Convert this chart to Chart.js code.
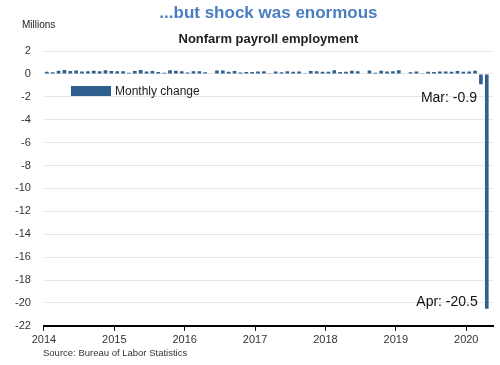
<!DOCTYPE html>
<html>
<head>
<meta charset="utf-8">
<script src="https://cdn.jsdelivr.net/npm/chart.js@4"></script>
<style>
  html, body { margin: 0; padding: 0; background: #fff; }
  #wrap { width: 500px; height: 365px; }
</style>
</head>
<body>
<div id="wrap"><canvas id="grafica"></canvas></div>
<script>
// monthly change in nonfarm payrolls, millions (Jan 2014 .. Apr 2020)
const anios = [2014, 2015, 2016, 2017, 2018, 2019, 2020];
const cambios2014 = [0.19, 0.15, 0.27, 0.33, 0.25, 0.30, 0.20, 0.23, 0.28, 0.23, 0.31, 0.26];
const cambios2015 = [0.23, 0.24, 0.09, 0.26, 0.34, 0.21, 0.25, 0.16, 0.10, 0.32, 0.27, 0.24];
const cambios2016 = [0.13, 0.24, 0.23, 0.15, 0.04, 0.30, 0.29, 0.18, 0.25, 0.12, 0.16, 0.16];
const cambios2017 = [0.22, 0.23, 0.05, 0.21, 0.15, 0.24, 0.19, 0.22, 0.02, 0.26, 0.24, 0.18];
const cambios2018 = [0.18, 0.32, 0.16, 0.18, 0.27, 0.24, 0.04, 0.29, 0.11, 0.28, 0.20, 0.23];
const cambios2019 = [0.31, 0.00, 0.15, 0.21, 0.06, 0.18, 0.17, 0.21, 0.21, 0.19, 0.26, 0.18];
const cambios2020 = [0.21, 0.28, -0.9, -20.5];
const notaMar = 'Mar: -0.9';
const notaAbr = 'Apr: -20.5';

const fuente = '"Liberation Sans", Arial, sans-serif';
const azul = '#2f5f8d';

const puntos = [];
[cambios2014, cambios2015, cambios2016, cambios2017, cambios2018, cambios2019, cambios2020].forEach((serie, i) => {
    serie.forEach((v, m) => {
        puntos.push({ x: anios[i] + (m + 0.5) / 12, y: v });
    });
});

const extras = {
    id: 'extras',
    afterDraw(chart) {
        const c = chart.ctx;
        const x = chart.scales.x, y = chart.scales.y;
        c.save();
        c.fillStyle = '#222';
        c.font = '10px ' + fuente;
        c.textBaseline = 'middle';
        c.textAlign = 'left';
        c.fillText('Millions', 22, 25);
        c.fillStyle = '#333';
        c.font = '9.5px ' + fuente;
        c.fillText('Source: Bureau of Labor Statistics', 43, 353);

        // legend
        c.fillStyle = azul;
        c.fillRect(71, 86, 40, 10);
        c.fillStyle = '#222';
        c.font = '12px ' + fuente;
        c.fillText('Monthly change', 115, 91.5);

        // annotations
        c.font = '14px ' + fuente;
        c.fillStyle = '#111';
        c.textAlign = 'right';
        const pMar = puntos[puntos.length - 2];
        const pAbr = puntos[puntos.length - 1];
        c.fillText(notaMar, x.getPixelForValue(pMar.x) - 4, y.getPixelForValue(-2.1));
        c.fillText(notaAbr, x.getPixelForValue(pAbr.x) - 9, y.getPixelForValue(-19.9));
        c.restore();
    }
};

new Chart(document.getElementById('grafica'), {
    type: 'bar',
    data: {
        datasets: [{
            label: 'Monthly change',
            data: puntos,
            backgroundColor: azul,
            barPercentage: 0.78,
            categoryPercentage: 0.8
        }]
    },
    options: {
        responsive: true,
        maintainAspectRatio: false,
        animation: false,
        layout: { padding: { left: 2, right: 7, top: 2, bottom: 15 } },
        plugins: {
            legend: { display: false },
            tooltip: { enabled: false },
            title: {
                display: true,
                text: '...but shock was enormous',
                color: '#4a7ebf',
                fullSize: false,
                font: { family: fuente, size: 17, weight: 'bold' },
                padding: { top: 1, bottom: 8 }
            },
            subtitle: {
                display: true,
                text: 'Nonfarm payroll employment',
                color: '#222',
                fullSize: false,
                font: { family: fuente, size: 13, weight: 'bold' },
                padding: { top: 0, bottom: 4 }
            }
        },
        scales: {
            x: {
                type: 'linear',
                min: 2014,
                max: 2020.38,
                offset: false,
                afterBuildTicks: s => { s.ticks = anios.map(v => ({ value: v })); },
                ticks: {
                    color: '#333',
                    font: { family: fuente, size: 11 },
                    callback: v => String(v),
                    maxRotation: 0,
                    autoSkip: false,
                    padding: 3
                },
                grid: { offset: false, drawOnChartArea: false, drawTicks: true, tickLength: 5, color: '#000' },
                border: { display: true, color: '#000', width: 2 }
            },
            y: {
                min: -22,
                max: 2,
                ticks: {
                    stepSize: 2,
                    color: '#333',
                    font: { family: fuente, size: 11 },
                    padding: 13
                },
                grid: { color: '#e6e6e6', drawTicks: false },
                border: { display: false }
            }
        }
    },
    plugins: [extras]
});
</script>
</body>
</html>
